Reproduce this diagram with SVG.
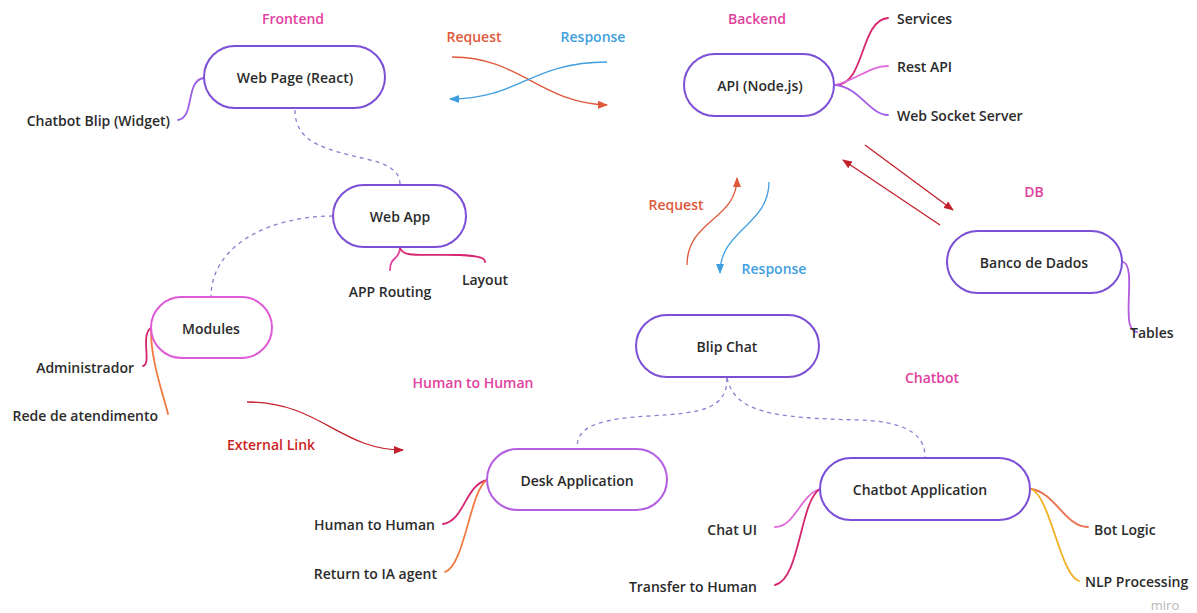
<svg xmlns="http://www.w3.org/2000/svg" width="1197" height="613" viewBox="0 0 1197 613">
<defs>
<style>
text{font-family:"Open Sans","Noto Sans","Liberation Sans",sans-serif;font-weight:600;font-size:14px;fill:#2b2b2b;text-anchor:middle;dominant-baseline:central}
.t{font-size:14px}
.lbl{fill:#e2409e}
.req{fill:#e0583a}
.res{fill:#3f9fe0}
.ext{fill:#cc1f24}
.node{fill:#fff;stroke-width:2}
.p{stroke:#7b4fd6}
.pk{stroke:#e05ad8}
.lp{stroke:#b45ee2}
.dash{fill:none;stroke:#8a7fd0;stroke-width:1.3;stroke-dasharray:4 4}
.br{fill:none;stroke-width:1.8;stroke-linecap:round}
.arr{fill:none;stroke-width:1.3}
.r{text-anchor:end}
.l{text-anchor:start}
</style>
<marker id="mo" markerWidth="10" markerHeight="8" refX="9" refY="4" orient="auto" markerUnits="userSpaceOnUse"><path d="M0,0 L10,4 L0,8 Z" fill="#e0583a"/></marker>
<marker id="mb" markerWidth="10" markerHeight="8" refX="9" refY="4" orient="auto" markerUnits="userSpaceOnUse"><path d="M0,0 L10,4 L0,8 Z" fill="#3f9fe0"/></marker>
<marker id="mr" markerWidth="10" markerHeight="8" refX="9" refY="4" orient="auto" markerUnits="userSpaceOnUse"><path d="M0,0 L10,4 L0,8 Z" fill="#c4202a"/></marker>
</defs>
<rect width="1197" height="613" fill="#fff"/>

<g id="connectors">
<path class="dash" d="M295,110 C295,145 330,150 370,160 C395,166 400,175 400,185"/>
<path class="dash" d="M333,216 C270,216 211,245 211,297"/>
<path class="dash" d="M727,378 C727,410 700,413 650,416 C590,419 577,430 577,448"/>
<path class="dash" d="M727,378 C735,412 770,418 860,420 C915,422 925,440 925,457"/>
<path class="arr" stroke="#e0583a" marker-end="url(#mo)" d="M452,57 C520,57 540,103 607,105"/>
<path class="arr" stroke="#3f9fe0" marker-end="url(#mb)" d="M607,62 C530,62 520,99 450,99"/>
<path class="arr" stroke="#e0583a" marker-end="url(#mo)" d="M687,265 C687,220 737,220 737,178"/>
<path class="arr" stroke="#3f9fe0" marker-end="url(#mb)" d="M769,182 C769,225 720,230 720,273"/>
<path class="arr" stroke="#c4202a" marker-end="url(#mr)" d="M865,145 L953,210"/>
<path class="arr" stroke="#c4202a" marker-end="url(#mr)" d="M940,225 L843,160"/>
<path class="arr" stroke="#c4202a" marker-end="url(#mr)" d="M247,402 C320,402 340,450 403,450"/>
<path class="br" stroke="#9b5de5" d="M204,78 C185,80 195,118 178,120"/>
<path class="br" stroke="#d6246e" d="M836,85 C865,85 860,20 888,18"/>
<path class="br" stroke="#e06ad8" d="M836,85 C860,78 870,66 888,66"/>
<path class="br" stroke="#a35de8" d="M836,85 C860,88 870,115 888,115"/>
<path class="br" stroke="#e0409e" d="M400,248 C400,260 390,256 390,270"/>
<path class="br" stroke="#d6246e" d="M400,248 C404,258 420,254 460,255 C480,256 485,258 485,262"/>
<path class="br" stroke="#d6246e" d="M151,328 C140,335 152,364 143,366"/>
<path class="br" stroke="#f07a40" d="M151,328 C150,360 165,400 168,414"/>
<path class="br" stroke="#d6246e" d="M487,480 C465,485 465,520 443,524"/>
<path class="br" stroke="#f07a40" d="M487,480 C470,490 465,565 445,572"/>
<path class="br" stroke="#e06ad8" d="M820,489 C800,495 795,527 775,527"/>
<path class="br" stroke="#d6246e" d="M820,489 C800,500 800,580 775,585"/>
<path class="br" stroke="#e87050" d="M1031,489 C1055,492 1065,527 1088,527"/>
<path class="br" stroke="#f0b020" d="M1031,489 C1050,495 1060,575 1079,581"/>
<path class="br" stroke="#b05ae0" d="M1123,262 C1135,265 1125,310 1130,325 C1132,330 1135,332 1137,332"/>
</g>

<g id="labels">
<text class="lbl" x="293" y="18">Frontend</text>
<text class="lbl" x="757" y="18">Backend</text>
<text class="lbl" x="1034" y="191">DB</text>
<text class="lbl" x="473" y="382">Human to Human</text>
<text class="lbl" x="932" y="377">Chatbot</text>
<text class="req" x="474" y="36">Request</text>
<text class="res" x="593" y="36">Response</text>
<text class="req" x="676" y="204">Request</text>
<text class="res" x="774" y="268">Response</text>
<text class="ext" x="271" y="444">External Link</text>
<text x="1165" y="605" style="fill:#b8b8b8;font-weight:400;font-size:13px">miro</text>
</g>

<g id="webpage"><rect class="node p" x="204" y="46" width="181" height="62" rx="31"/><text x="295" y="77">Web Page (React)</text></g>
<g id="chatbot-widget"><text class="r" x="170" y="120">Chatbot Blip (Widget)</text></g>
<g id="api"><rect class="node p" x="684" y="54" width="150" height="62" rx="31"/><text x="760" y="85">API (Node.js)</text></g>
<g id="services"><text class="l" x="897" y="18">Services</text></g>
<g id="restapi"><text class="l" x="897" y="66">Rest API</text></g>
<g id="websocket"><text class="l" x="897" y="115">Web Socket Server</text></g>
<g id="webapp"><rect class="node p" x="333" y="185" width="133" height="62" rx="31"/><text x="400" y="216">Web App</text></g>
<g id="approuting"><text x="390" y="291">APP Routing</text></g>
<g id="layout"><text x="485" y="279">Layout</text></g>
<g id="modules"><rect class="node pk" x="151" y="297" width="121" height="61" rx="30.5"/><text x="211" y="328">Modules</text></g>
<g id="administrador"><text class="r" x="134" y="367">Administrador</text></g>
<g id="rede"><text class="r" x="158" y="415">Rede de atendimento</text></g>
<g id="banco"><rect class="node p" x="947" y="231" width="175" height="62" rx="31"/><text x="1034" y="262">Banco de Dados</text></g>
<g id="tables"><text class="l" x="1130" y="332">Tables</text></g>
<g id="blipchat"><rect class="node p" x="636" y="315" width="183" height="62" rx="31"/><text x="727" y="346">Blip Chat</text></g>
<g id="desk"><rect class="node lp" x="487" y="449" width="180" height="61" rx="30.5"/><text x="577" y="480">Desk Application</text></g>
<g id="h2h"><text class="r" x="435" y="524">Human to Human</text></g>
<g id="returnia"><text class="r" x="437" y="573">Return to IA agent</text></g>
<g id="chatbotapp"><rect class="node p" x="820" y="458" width="210" height="62" rx="31"/><text x="920" y="489">Chatbot Application</text></g>
<g id="chatui"><text class="r" x="757" y="529">Chat UI</text></g>
<g id="transfer"><text class="r" x="757" y="586">Transfer to Human</text></g>
<g id="botlogic"><text class="l" x="1094" y="529">Bot Logic</text></g>
<g id="nlp"><text class="l" x="1085" y="581">NLP Processing</text></g>
</svg>
